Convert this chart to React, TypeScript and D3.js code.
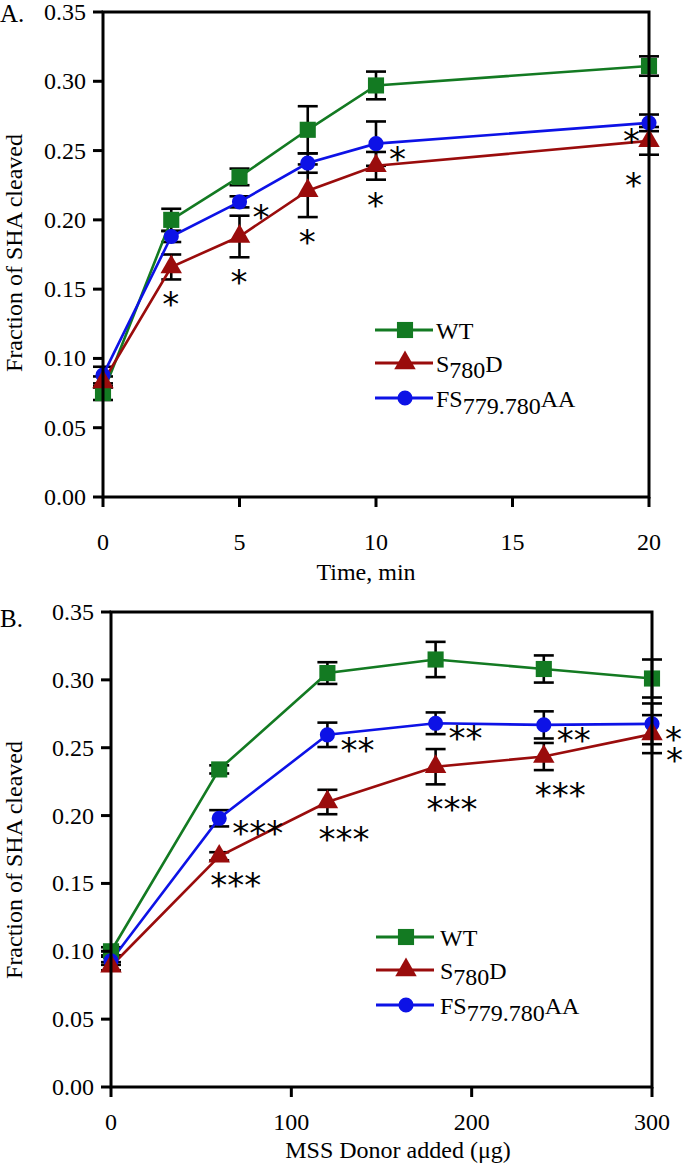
import * as React from 'react';
import * as d3 from 'd3';

// series: WT, S780D, FS779.780AA
const seriesColors = ['#137a22', '#9a0c0c', '#0d12e6'];

// panel A: cleavage over time
const timeMin = [0, 2.5, 5, 7.5, 10, 20];
const wtA = [0.075, 0.200, 0.231, 0.265, 0.297, 0.311];
const wtAErr = [0.005, 0.008, 0.006, 0.017, 0.010, 0.007];
const s780dA = [0.083, 0.166, 0.188, 0.221, 0.239, 0.257];
const s780dAErr = [0.004, 0.009, 0.015, 0.019, 0.010, 0.010];
const fsA = [0.088, 0.188, 0.213, 0.241, 0.255, 0.270];
const fsAErr = [0.006, 0.004, 0.004, 0.007, 0.016, 0.006];

// panel B: cleavage vs. donor amount
const donorUg = [0, 60, 120, 180, 240, 300];
const wtB = [0.100, 0.234, 0.305, 0.315, 0.308, 0.301];
const wtBErr = [0.003, 0.003, 0.008, 0.013, 0.010, 0.014];
const s780dB = [0.089, 0.170, 0.210, 0.236, 0.2435, 0.260];
const s780dBErr = [0.003, 0.003, 0.009, 0.013, 0.010, 0.014];
const fsB = [0.093, 0.198, 0.2595, 0.268, 0.2668, 0.2676];
const fsBErr = [0.003, 0.006, 0.009, 0.008, 0.010, 0.015];

const yTicks = [0, 0.05, 0.10, 0.15, 0.20, 0.25, 0.30, 0.35];
const timeTicks = [0, 5, 10, 15, 20];
const donorTicks = [0, 100, 200, 300];

// significance marks: which series / point, text, placement keyword
type Star = { s: number, i: number, text: string, place: string };
const starsA: Star[] = [
    { s: 1, i: 1, text: '*', place: 'below' },
    { s: 2, i: 2, text: '*', place: 'right' },
    { s: 1, i: 2, text: '*', place: 'below' },
    { s: 1, i: 3, text: '*', place: 'below' },
    { s: 2, i: 4, text: '*', place: 'right' },
    { s: 1, i: 4, text: '*', place: 'below' },
    { s: 2, i: 5, text: '*', place: 'left' },
    { s: 1, i: 5, text: '*', place: 'belowLeft' },
];
const starsB: Star[] = [
    { s: 2, i: 1, text: '***', place: 'right' },
    { s: 1, i: 1, text: '***', place: 'below' },
    { s: 2, i: 2, text: '**', place: 'right' },
    { s: 1, i: 2, text: '***', place: 'below' },
    { s: 2, i: 3, text: '**', place: 'right' },
    { s: 1, i: 3, text: '***', place: 'below' },
    { s: 2, i: 4, text: '**', place: 'right' },
    { s: 1, i: 4, text: '***', place: 'below' },
    { s: 2, i: 5, text: '*', place: 'right' },
    { s: 1, i: 5, text: '*', place: 'rightLow' },
];

type PanelProps = {
    label: string,
    labelY: number,
    xs: number[],
    ys: number[][],
    errs: number[][],
    xDomain: [number, number],
    xTicks: number[],
    xTitle: string,
    stars: Star[],
    box: { left: number, right: number, top: number, bottom: number },
    xLabelGap: number,
    titleX: number,
    titleY: number,
    yTitleY: number,
    legend: { x: number, y: number, textX: number },
};

const serif = 'Liberation Serif, Times New Roman, serif';
const symbols = [d3.symbolSquare, d3.symbolTriangle, d3.symbolCircle];
const symbolSizes = [260, 200, 180];
const drawOrder = [0, 2, 1];
const legendRows = [0, 33, 68];
const starFont = 34;
const starLift = 19; // baseline offset from the glyph's centre

function Legend({ x, y, textX }: { x: number, y: number, textX: number }) {
    return (
        <g>
            {[0, 1, 2].map(s => {
                const ly = y + legendRows[s];
                return (
                    <g key={s}>
                        <line x1={x} x2={x + 58} y1={ly} y2={ly} stroke={seriesColors[s]} strokeWidth={2.8} />
                        <path d={d3.symbol(symbols[s], symbolSizes[s])()!} transform={`translate(${x + 30},${ly})`} fill={seriesColors[s]} />
                        <text x={textX} y={ly + 9} fontFamily={serif} fontSize={24}>
                            {s === 0 && 'WT'}
                            {s === 1 && <>S<tspan dy={6}>780</tspan><tspan dy={-6}>D</tspan></>}
                            {s === 2 && <>FS<tspan dy={7}>779.780</tspan><tspan dy={-7}>AA</tspan></>}
                        </text>
                    </g>
                );
            })}
        </g>
    );
}

function Panel(p: PanelProps) {
    const { left, right, top, bottom } = p.box;
    const x = d3.scaleLinear().domain(p.xDomain).range([left, right]);
    const y = d3.scaleLinear().domain([0, 0.35]).range([bottom, top]);
    const line = d3.line<number>().x((_, i) => x(p.xs[i])).y(d => y(d));

    const starPos = (st: Star) => {
        const px = x(p.xs[st.i]);
        const v = p.ys[st.s][st.i];
        const e = p.errs[st.s][st.i];
        switch (st.place) {
            case 'right': return { x: px + 13, cy: y(v) + 8, anchor: 'start' };
            case 'left': return { x: px - 9, cy: y(v) + 11, anchor: 'end' };
            case 'belowLeft': return { x: px - 24, cy: y(v - e) + 23, anchor: 'start' };
            case 'rightLow': return { x: px + 14, cy: y(v - e), anchor: 'start' };
            default: return { x: px - 9, cy: y(v - e) + 18, anchor: 'start' };
        }
    };

    // a 'rightLow' mark at the same point as a 'right' mark goes into the same text as a second line
    const lowMarks = p.stars.filter(st => st.place === 'rightLow');
    const mainMarks = p.stars.filter(st => st.place !== 'rightLow');

    return (
        <g>
            <text x={0} y={p.labelY} fontFamily={serif} fontSize={25}>{p.label}</text>

            {/* error bars */}
            {drawOrder.map(s => p.ys[s].map((v, i) => {
                const px = x(p.xs[i]);
                const y1 = y(v + p.errs[s][i]);
                const y2 = y(v - p.errs[s][i]);
                return (
                    <g key={`e${s}-${i}`} stroke="#000" strokeWidth={2.6}>
                        <line x1={px} x2={px} y1={y1} y2={y2} />
                        <line x1={px - 10} x2={px + 10} y1={y1} y2={y1} />
                        <line x1={px - 10} x2={px + 10} y1={y2} y2={y2} />
                    </g>
                );
            }))}

            {/* lines */}
            {drawOrder.map(s => (
                <path key={`l${s}`} d={line(p.ys[s])!} fill="none" stroke={seriesColors[s]} strokeWidth={2.6} />
            ))}

            {/* markers */}
            {drawOrder.map(s => p.ys[s].map((v, i) => (
                <path key={`m${s}-${i}`} d={d3.symbol(symbols[s], symbolSizes[s])()!}
                    transform={`translate(${x(p.xs[i])},${y(v)})`} fill={seriesColors[s]} />
            )))}

            {/* frame */}
            <rect x={left} y={top} width={right - left} height={bottom - top} fill="none" stroke="#000" strokeWidth={3} />

            {/* y axis */}
            {yTicks.map(t => (
                <g key={`yt${t}`}>
                    <line x1={left - 10} x2={left} y1={y(t)} y2={y(t)} stroke="#000" strokeWidth={3} />
                    <text x={left - 17} y={y(t) + 8} textAnchor="end" fontFamily={serif} fontSize={24}>{d3.format('.2f')(t)}</text>
                </g>
            ))}
            <text transform={`translate(22,${p.yTitleY}) rotate(-90)`} textAnchor="middle" fontFamily={serif} fontSize={24}>Fraction of SHA cleaved</text>

            {/* x axis */}
            {p.xTicks.map(t => (
                <g key={`xt${t}`}>
                    <line x1={x(t)} x2={x(t)} y1={bottom} y2={bottom + 10} stroke="#000" strokeWidth={3} />
                    <text x={x(t)} y={bottom + p.xLabelGap + 8} textAnchor="middle" fontFamily={serif} fontSize={24}>{t}</text>
                </g>
            ))}
            <text x={p.titleX} y={p.titleY} textAnchor="middle" fontFamily={serif} fontSize={24}>{p.xTitle}</text>

            {/* significance */}
            {mainMarks.map((st, k) => {
                const pos = starPos(st);
                const low = st.place === 'right' ? lowMarks.find(m => m.i === st.i) : undefined;
                const lowPos = low ? starPos(low) : undefined;
                return (
                    <text key={`st${k}`} x={pos.x} y={pos.cy + starLift} textAnchor={pos.anchor} fontFamily="DejaVu Sans" fontSize={starFont}>
                        {st.text}
                        {low && lowPos && <tspan x={lowPos.x} dy={lowPos.cy - pos.cy}>{low.text}</tspan>}
                    </text>
                );
            })}

            <Legend {...p.legend} />
        </g>
    );
}

export default function App() {
    return (
        <svg width={683} height={1164} style={{ position: 'absolute', left: 0, top: 0, background: '#fff' }}>
            <Panel
                label="A."
                labelY={22}
                xs={timeMin}
                ys={[wtA, s780dA, fsA]}
                errs={[wtAErr, s780dAErr, fsAErr]}
                xDomain={[0, 20]}
                xTicks={timeTicks}
                xTitle="Time, min"
                stars={starsA}
                box={{ left: 103, right: 649, top: 12, bottom: 497 }}
                xLabelGap={45}
                titleX={366}
                titleY={580}
                yTitleY={253}
                legend={{ x: 375, y: 330, textX: 436 }}
            />
            <Panel
                label="B."
                labelY={627}
                xs={donorUg}
                ys={[wtB, s780dB, fsB]}
                errs={[wtBErr, s780dBErr, fsBErr]}
                xDomain={[0, 300]}
                xTicks={donorTicks}
                xTitle="MSS Donor added (μg)"
                stars={starsB}
                box={{ left: 111, right: 652, top: 612, bottom: 1087 }}
                xLabelGap={35}
                titleX={398}
                titleY={1158}
                yTitleY={860}
                legend={{ x: 376, y: 937, textX: 440 }}
            />
        </svg>
    );
}
